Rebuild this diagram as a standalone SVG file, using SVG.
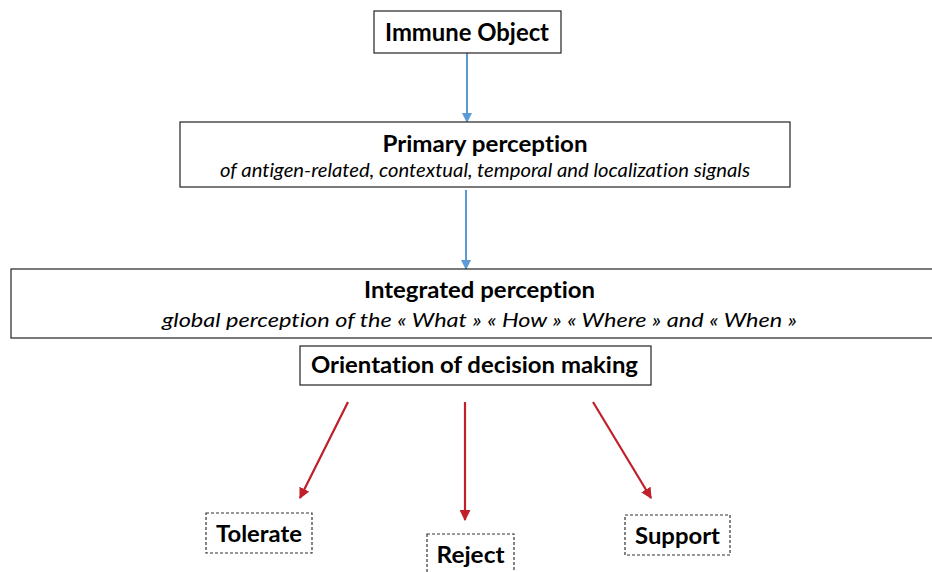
<svg xmlns="http://www.w3.org/2000/svg" width="932" height="572" viewBox="0 0 932 572">
<defs>
<style>
.box{fill:#fff;stroke:#222;stroke-width:1.2}
.dbox{fill:#fff;stroke:#333;stroke-width:1.2;stroke-dasharray:3 2}
.t{font-family:Lato,"Open Sans","Liberation Sans",sans-serif;font-weight:bold;fill:#000;text-anchor:middle;font-variant-ligatures:none}
.s{font-family:Lato,"Open Sans","Liberation Sans",sans-serif;font-style:italic;fill:#000;text-anchor:middle;font-size:19.5px;font-variant-ligatures:none}
.blue{stroke:#5b9bd5;stroke-width:2;fill:none}
.red{stroke:#c0202a;stroke-width:2.2;fill:none}
</style>
<marker id="ab" viewBox="0 0 10 10" refX="9" refY="5" markerWidth="5" markerHeight="5" orient="auto"><path d="M0,0L10,5L0,10z" fill="#5b9bd5"/></marker>
<marker id="ar" viewBox="0 0 10 10" refX="9" refY="5" markerWidth="5" markerHeight="5" orient="auto"><path d="M0,0L10,5L0,10z" fill="#c0202a"/></marker>
</defs>
<rect width="932" height="572" fill="#fff"/>
<g id="connectors">
<line class="blue" x1="467" y1="53" x2="467" y2="122" marker-end="url(#ab)"/>
<line class="blue" x1="466" y1="190" x2="466" y2="269" marker-end="url(#ab)"/>
<line class="red" x1="348" y1="402" x2="300" y2="498" marker-end="url(#ar)"/>
<line class="red" x1="465" y1="402" x2="465" y2="520" marker-end="url(#ar)"/>
<line class="red" x1="593" y1="402" x2="651" y2="498" marker-end="url(#ar)"/>
</g>
<g id="immune-object">
<rect class="box" x="374" y="11" width="187" height="42"/>
<text class="t" x="467" y="41" font-size="24" textLength="164" lengthAdjust="spacingAndGlyphs">Immune Object</text>
</g>
<g id="primary-perception">
<rect class="box" x="180" y="122" width="610" height="65"/>
<text class="t" x="485" y="152" font-size="22" textLength="205" lengthAdjust="spacingAndGlyphs">Primary perception</text>
<text class="s" x="485" y="177" textLength="530" lengthAdjust="spacingAndGlyphs">of antigen-related, contextual, temporal and localization signals</text>
</g>
<g id="integrated-perception">
<rect class="box" x="11" y="269" width="930" height="69"/>
<text class="t" x="479.5" y="298" font-size="22" textLength="231" lengthAdjust="spacingAndGlyphs">Integrated perception</text>
<text class="s" x="479.5" y="327" textLength="635" lengthAdjust="spacingAndGlyphs">global perception of the « What » « How » « Where » and « When »</text>
</g>
<g id="orientation">
<rect class="box" x="300" y="346" width="351" height="39"/>
<text class="t" x="474.5" y="373" font-size="22" textLength="327" lengthAdjust="spacingAndGlyphs">Orientation of decision making</text>
</g>
<g id="tolerate">
<rect class="dbox" x="206" y="513" width="106" height="40"/>
<text class="t" x="259" y="542" font-size="22" textLength="86" lengthAdjust="spacingAndGlyphs">Tolerate</text>
</g>
<g id="reject">
<rect class="dbox" x="427" y="534" width="87" height="42"/>
<text class="t" x="470.5" y="563" font-size="22" textLength="68" lengthAdjust="spacingAndGlyphs">Reject</text>
</g>
<g id="support">
<rect class="dbox" x="625" y="515" width="105" height="40"/>
<text class="t" x="677.5" y="544" font-size="22" textLength="85" lengthAdjust="spacingAndGlyphs">Support</text>
</g>
</svg>
